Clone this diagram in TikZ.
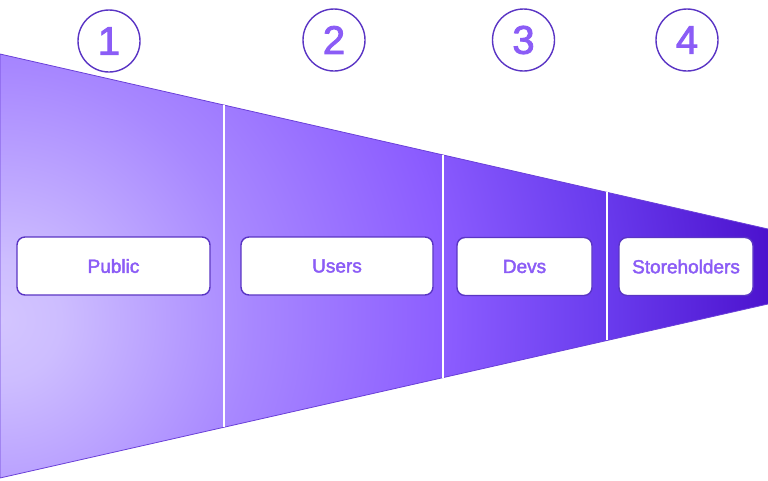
\documentclass[tikz,border=0pt]{standalone}
\usepackage{fontspec}
\setmainfont{Liberation Sans}
\newfontfamily\medfont{Liberation Sans}[FakeBold=2.2]
\usetikzlibrary{calc}
\definecolor{fa}{HTML}{D3C5FF}
\definecolor{fa2}{HTML}{CDBDFF}
\definecolor{fb}{HTML}{A888FF}
\definecolor{fc}{HTML}{8C5DFF}
\definecolor{fd}{HTML}{6A3CEE}
\definecolor{fe}{HTML}{4A10CC}
\definecolor{edgec}{HTML}{6A40D8}
\definecolor{boxline}{HTML}{5A35C4}
\definecolor{txtc}{HTML}{8B5CF6}
\pgfdeclareradialshading{funnelrad}{\pgfpointorigin}{color(0bp)=(fa); color(1.9bp)=(fa2); color(7.8bp)=(fb); color(13.9bp)=(fc); color(18.9bp)=(fd); color(24.4bp)=(fe); color(50bp)=(fe)}
\tikzset{
  numcirc/.style={circle, draw=boxline, line width=1.4pt, minimum size=62pt, inner sep=0pt, text=txtc, font=\medfont\fontsize{40}{40}\selectfont},
  stagebox/.style={draw=boxline, line width=1.4pt, fill=white, rounded corners=8pt, minimum height=58pt, inner sep=0pt, text=txtc, font=\medfont\fontsize{19}{20}\selectfont},
  divider/.style={white, line width=2pt},
  funneledge/.style={edgec, line width=0.8pt}
}
\begin{document}
\begin{tikzpicture}[x=1pt,y=-1pt]
\useasboundingbox (0,0) rectangle (768,480);
\coordinate (A) at (0,54);
\coordinate (B) at (768,229);
\coordinate (C) at (768,304);
\coordinate (D) at (0,478);
\coordinate (G) at (0,320);
\begin{scope}
  \clip (A) -- (B) -- (C) -- (D) -- cycle;
  \shade[shading=funnelrad] (G) circle (800);
\end{scope}
\draw[funneledge] (B) -- (A) -- (D) -- (C);
% dividers
\foreach \t/\n in {0.2917/p, 0.5768/q, 0.7904/r}{
  \coordinate (\n top) at ($(A)!\t!(B)$);
  \coordinate (\n bot) at ($(D)!\t!(C)$);
}
\draw[divider] (ptop) -- (pbot);
\draw[divider] (qtop) -- (qbot);
\draw[divider] (rtop) -- (rbot);
% numbers
\node[numcirc] (n1) at (109,41) {1};
\node[numcirc] (n2) at (334,40) {2};
\node[numcirc] (n3) at (523.5,40) {3};
\node[numcirc] (n4) at (687,40) {4};
% boxes
\node[stagebox, minimum width=193pt] (b1) at (113.5,266) {Public};
\node[stagebox, minimum width=192pt] (b2) at (337,266) {Users};
\node[stagebox, minimum width=135pt] (b3) at (524.5,266.5) {Devs};
\node[stagebox, minimum width=134pt] (b4) at (686,266.5) {Storeholders};
\end{tikzpicture}
\end{document}
